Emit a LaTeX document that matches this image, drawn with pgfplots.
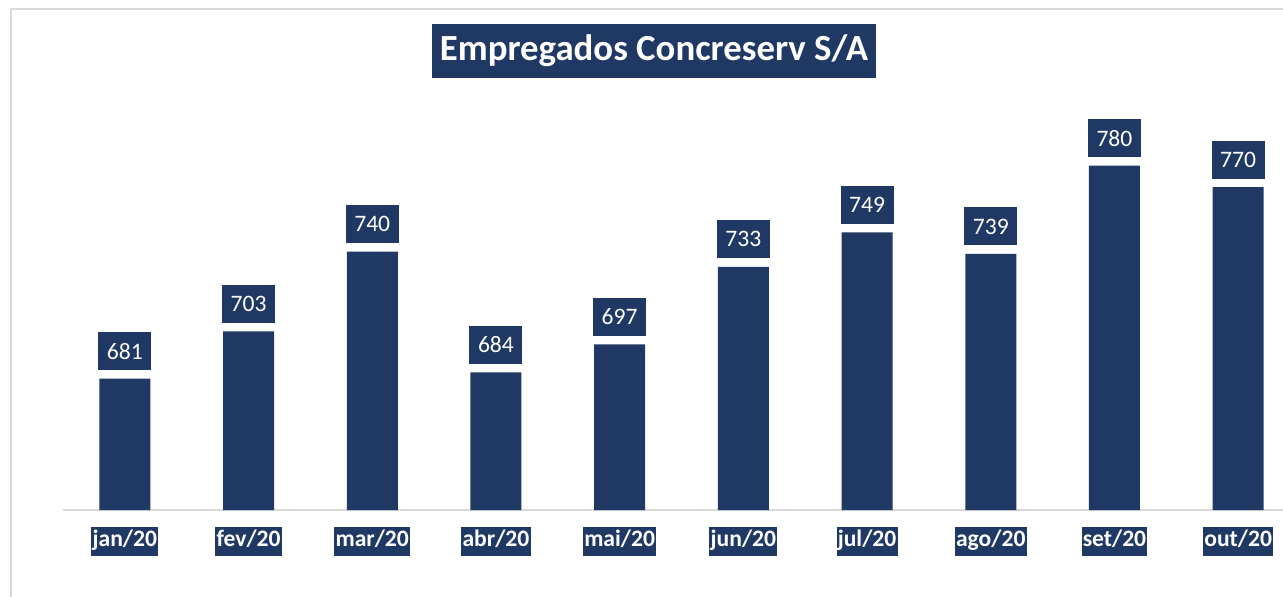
\documentclass[border=0pt]{standalone}
\usepackage{pgfplots}
\pgfplotsset{compat=1.18}
\usepackage{fontspec}
\setmainfont{Carlito}
\definecolor{navy}{HTML}{1F3864}
\definecolor{lightgray}{HTML}{D9D9D9}
\begin{document}
\begin{tikzpicture}
\path[use as bounding box] (-31.5pt,-43pt) rectangle (610pt,255pt);
\draw[lightgray, line width=1pt] (-25.75pt,-80pt) -- (-25.75pt,250.5pt) -- (640pt,250.5pt);
\begin{axis}[
  at={(0pt,0pt)}, anchor=south west,
  scale only axis,
  width=618.5pt, height=193.7pt,
  xmin=-0.5, xmax=9.5, ymin=620, ymax=800,
  clip=false,
  axis x line*=bottom, axis y line=none,
  x axis line style={draw=lightgray, line width=1pt, -},
  xtick=data,
  xticklabels={jan/20,fev/20,mar/20,abr/20,mai/20,jun/20,jul/20,ago/20,set/20,out/20},
  major tick length=0pt,
  xticklabel shift=8.5pt,
  xticklabel style={fill=navy, text=white, font=\fontsize{11.8}{13}\selectfont\bfseries,
    inner xsep=0.6pt, inner ysep=0pt, text height=9.5pt, text depth=5pt, anchor=north},
  ytick=\empty,
  ybar, bar width=25.5pt,
  nodes near coords,
  /pgf/number format/assume math mode=true,
  every node near coord/.append style={fill=navy, text=white,
    font=\fontsize{11.8}{13}\selectfont, inner sep=0pt,
    minimum width=26.5pt, minimum height=19pt, anchor=south, yshift=4pt},
]
\addplot[fill=navy, draw=none] coordinates {
 (0,681) (1,703) (2,740) (3,684) (4,697) (5,733) (6,749) (7,739) (8,780) (9,770)};
\end{axis}
\node[fill=navy, text=white, font=\fontsize{18.4}{21}\selectfont\bfseries,
  minimum width=222pt, minimum height=27pt, inner sep=0pt] at (295.5pt,229.5pt) {Empregados Concreserv S/A};
\end{tikzpicture}
\end{document}
